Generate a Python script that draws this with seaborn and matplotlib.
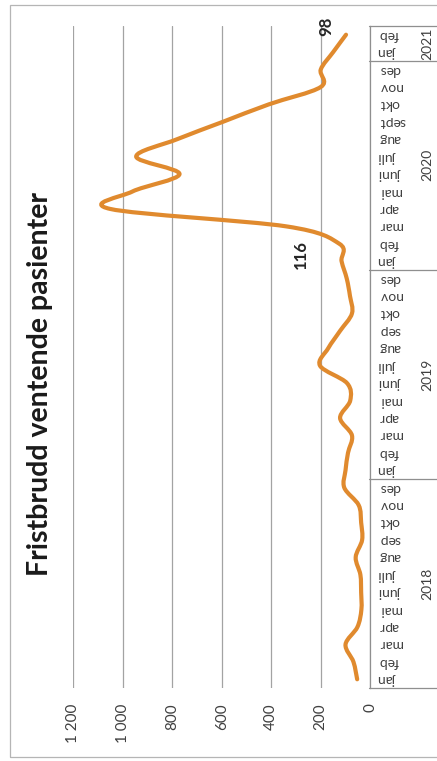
import matplotlib
matplotlib.use("Agg")
import matplotlib.pyplot as plt
from matplotlib.path import Path
from matplotlib.patches import PathPatch, Rectangle
from matplotlib import transforms
import numpy as np
import pandas as pd
import seaborn as sns


# # Data

title = "Fristbrudd ventende pasienter"

years = ["2018", "2019", "2020", "2021"]
months_2018 = ["jan", "feb", "mar", "apr", "mai", "juni", "juli", "aug", "sep", "okt", "nov", "des"]
months_2019 = ["jan", "feb", "mar", "apr", "mai", "juni", "juli", "aug", "sep", "okt", "nov", "des"]
months_2020 = ["jan", "feb", "mar", "apr", "mai", "juni", "juli", "aug", "sept", "okt", "nov", "des"]
months_2021 = ["jan", "feb"]

values_2018 = [53, 68, 100, 52, 36, 37, 40, 59, 33, 37, 47, 105]
values_2019 = [100, 90, 74, 122, 81, 94, 203, 170, 122, 74, 82, 95]
values_2020 = [116, 125, 340, 1050, 960, 770, 945, 780, 595, 410, 200, 200]
values_2021 = [150, 98]

value_ticks = [0, 200, 400, 600, 800, 1000, 1200]
value_tick_labels = ["0", "200", "400", "600", "800", "1 000", "1 200"]

# which points carry a data label
labelled = {"116": (2020, "jan"), "98": (2021, "feb")}

month_lists = [months_2018, months_2019, months_2020, months_2021]
value_lists = [values_2018, values_2019, values_2020, values_2021]

df = pd.DataFrame({
    "year": [int(y) for y, m in zip(years, month_lists) for _ in m],
    "month": [lab for m in month_lists for lab in m],
    "value": [v for vals in value_lists for v in vals],
})
df["pos"] = np.arange(len(df))


# # Style

sns.set_theme(style="white")
plt.rcParams["font.family"] = ["Lato", "DejaVu Sans"]

orange = "#E08A2E"
grid_col = "#a3a3a3"
box_col = "#8f8f8f"
text_col = "#404040"

W, H = 437, 761
fig = plt.figure(figsize=(W / 100, H / 100), dpi=100)
fig.patch.set_facecolor("white")

# plot area (the chart is turned a quarter turn: values run right to left)
x0, x1 = 73, 370.3
y_top, y_bot = 26, 688
ax = fig.add_axes([x0 / W, 1 - y_bot / H, (x1 - x0) / W, (y_bot - y_top) / H])
ax.set_xlim(1200, 0)
ax.set_ylim(-0.5, len(df) - 0.5)

ax.set_xticks(value_ticks)
ax.set_xticklabels(value_tick_labels, rotation=90)
ax.tick_params(axis="x", length=0, pad=11, labelsize=11, colors=text_col)
ax.set_yticks([])
ax.grid(axis="x", color=grid_col, lw=0.9)
ax.grid(axis="y", visible=False)
for side in ["top", "left", "bottom"]:
    ax.spines[side].set_visible(False)
ax.spines["right"].set_color(box_col)
ax.spines["right"].set_linewidth(0.9)

# smoothed line like Excel's "smooth line" option
pts = df[["value", "pos"]].to_numpy(dtype=float)
verts = [pts[0]]
codes = [Path.MOVETO]
n = len(pts)
for i in range(n - 1):
    p_prev = pts[max(i - 1, 0)]
    p0, p1 = pts[i], pts[i + 1]
    p_next = pts[min(i + 2, n - 1)]
    c1 = p0 + (p1 - p_prev) / 6
    c2 = p1 - (p_next - p0) / 6
    verts += [c1, c2, p1]
    codes += [Path.CURVE4] * 3
ax.add_patch(PathPatch(Path(verts, codes), facecolor="none", edgecolor=orange,
                       lw=3.0, capstyle="round", joinstyle="round", zorder=3))

# data labels
label_offsets = {"116": (-40.6, 7), "98": (-20, 8)}   # pixels
for txt, (yr, mon) in labelled.items():
    row = df[(df.year == yr) & (df.month == mon)].iloc[0]
    dx, dy = label_offsets[txt]
    ax.annotate(txt, xy=(row.value, row.pos), xytext=(dx * 0.72, dy * 0.72),
                textcoords="offset points", rotation=90, ha="center", va="center",
                fontsize=12, fontweight="bold", color="#262626")

# multi level category axis on the right
trans = transforms.blended_transform_factory(fig.transFigure, ax.transData)
bounds = [-0.5]
start = 0
for m in month_lists:
    start += len(m)
    bounds.append(start - 0.5)
for b in bounds:
    ax.plot([369 / W, 1.0], [b, b], transform=trans, color=box_col, lw=0.9, clip_on=False)

for _, row in df.iterrows():
    ax.text(379 / W, row.pos, row.month, transform=trans, rotation=180,
            ha="left", va="center", fontsize=10, color=text_col)

for yr, lo, hi in zip(years, bounds[:-1], bounds[1:]):
    ax.text(427 / W, (lo + hi) / 2, yr, transform=trans, rotation=90,
            ha="center", va="center", fontsize=10, color=text_col)

# title
fig.text(40 / W, 1 - 384 / H, title, rotation=90, ha="center", va="center",
         fontsize=20.5, fontweight="bold", color="#1a1a1a")

# outer chart border (runs off the right edge as in the scan)
fig.patches.append(Rectangle((10 / W, 1 - 757 / H), 1.0, 752 / H, transform=fig.transFigure,
                             fill=False, edgecolor="#b5b5b5", lw=0.9))

fig.savefig("out.png", dpi=100)
